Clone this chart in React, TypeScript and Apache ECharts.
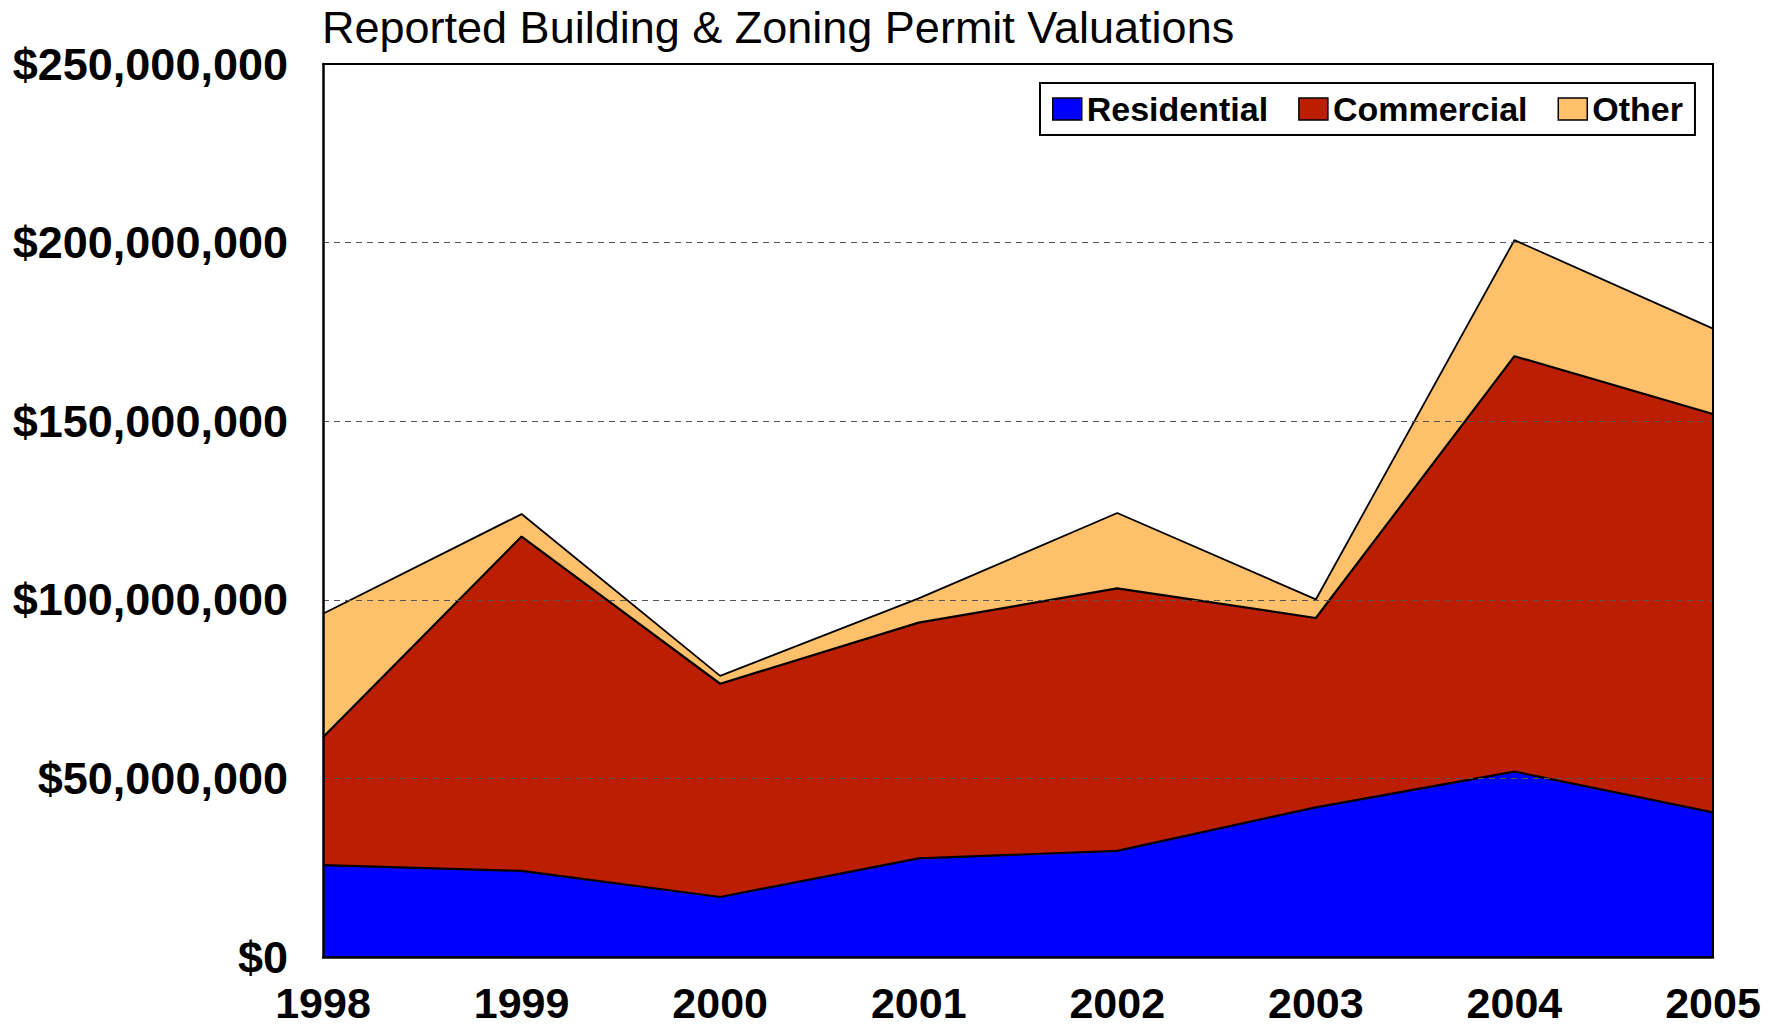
import React, { useEffect, useRef } from "react";
import * as echarts from "echarts";

const years = ["1998", "1999", "2000", "2001", "2002", "2003", "2004", "2005"];
const residential = [25.7, 24.1, 16.8, 27.6, 29.7, 41.9, 51.9, 40.5];
const commercial = [35.8, 93.6, 59.7, 66.0, 73.5, 53.0, 116.3, 111.5];
const other = [34.6, 6.3, 2.2, 6.8, 21.1, 5.2, 32.5, 23.9];
const M = 1000000;

const FONT = "Liberation Sans, Arial, sans-serif";

function money(v: number): string {
  return "$" + String(Math.round(v)).replace(/\B(?=(\d{3})+(?!\d))/g, ",");
}

export default function App() {
  const ref = useRef<HTMLDivElement>(null);
  useEffect(() => {
    if (!ref.current) return;
    const chart = echarts.init(ref.current, undefined, { renderer: "svg" });
    const seriesStyle = (name: string, data: number[], color: string, z: number, lw: number) => ({
      name,
      type: "line",
      stack: "total",
      data: data.map((v) => v * M),
      symbol: "none",
      z,
      itemStyle: { color },
      lineStyle: { color: "#000", width: lw },
      areaStyle: { color, opacity: 1 },
    });
    chart.setOption({
      animation: false,
      backgroundColor: "#fff",
      title: {
        text: "Reported Building & Zoning Permit Valuations",
        left: 322,
        top: 5,
        padding: 0,
        textStyle: { fontFamily: FONT, fontSize: 45, fontWeight: "normal", color: "#000" },
      },
      legend: {
        left: 1040,
        top: 83,
        padding: [9, 12, 9, 12],
        itemGap: 30,
        itemWidth: 29,
        itemHeight: 22,
        borderColor: "#000",
        borderWidth: 2,
        backgroundColor: "#fff",
        icon: "rect",
        data: [
          { name: "Residential", itemStyle: { borderColor: "#000", borderWidth: 1.5 } },
          { name: "Commercial", itemStyle: { borderColor: "#000", borderWidth: 1.5 } },
          { name: "Other", itemStyle: { borderColor: "#000", borderWidth: 1.5 } },
        ],
        textStyle: { fontFamily: FONT, fontSize: 34, fontWeight: "bold", color: "#000" },
      },
      grid: { left: 323, right: 63, top: 64, bottom: 70 },
      xAxis: [
        {
          type: "category",
          data: years,
          boundaryGap: false,
          z: 10,
          axisLine: { show: true, lineStyle: { color: "#000", width: 2.5 } },
          axisTick: { show: false },
          axisLabel: {
            fontFamily: FONT,
            fontSize: 43,
            fontWeight: "bold",
            color: "#000",
            margin: 24,
            interval: 0,
          },
          splitLine: { show: false },
        },
        {
          type: "category",
          data: years,
          boundaryGap: false,
          position: "top",
          z: 10,
          axisLine: { show: true, onZero: false, lineStyle: { color: "#000", width: 2 } },
          axisTick: { show: false },
          axisLabel: { show: false },
          splitLine: { show: false },
        },
      ],
      yAxis: [
        {
          type: "value",
          min: 0,
          max: 250 * M,
          interval: 50 * M,
          z: 10,
          axisLine: { show: true, onZero: false, lineStyle: { color: "#000", width: 2.5 } },
          axisTick: { show: false },
          axisLabel: {
            fontFamily: FONT,
            fontSize: 45,
            fontWeight: "bold",
            color: "#000",
            margin: 35,
            formatter: (v: number) => money(v),
          },
          splitLine: { show: true, lineStyle: { color: "#555", width: 1.2, type: [6, 5] } },
        },
        {
          type: "value",
          min: 0,
          max: 250 * M,
          interval: 50 * M,
          position: "right",
          z: 10,
          axisLine: { show: true, onZero: false, lineStyle: { color: "#000", width: 2 } },
          axisTick: { show: false },
          axisLabel: { show: false },
          splitLine: { show: false },
        },
      ],
      series: [
        seriesStyle("Residential", residential, "#0000FF", 5, 2.2),
        seriesStyle("Commercial", commercial, "#BB1E00", 4, 2.2),
        seriesStyle("Other", other, "#FFC06B", 3, 1.8),
      ],
    });
    return () => chart.dispose();
  }, []);
  return (
    <div
      ref={ref}
      style={{ position: "fixed", left: 0, top: 0, width: 1776, height: 1027, background: "#fff" }}
    />
  );
}
